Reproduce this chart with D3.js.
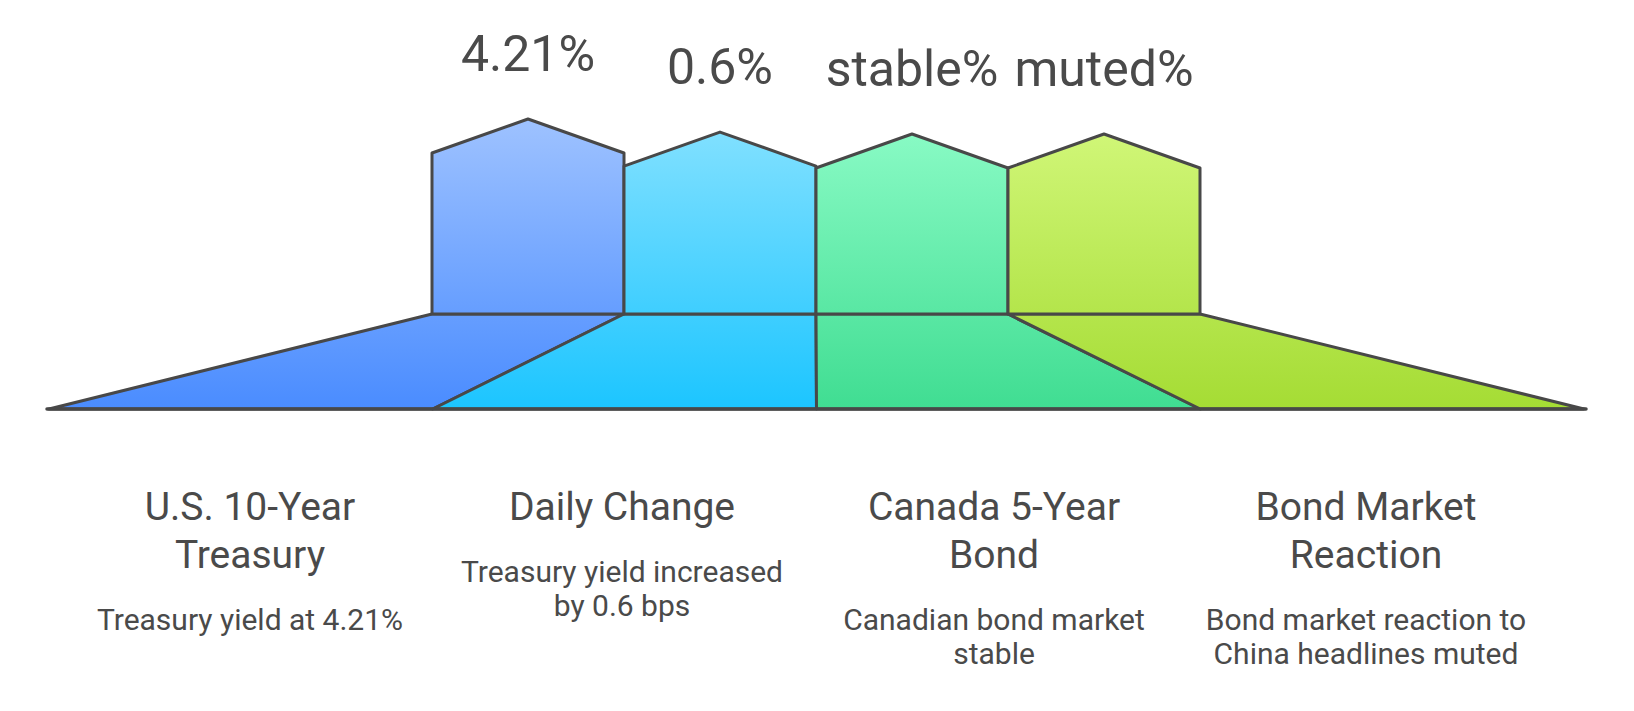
<!DOCTYPE html>
<html>
<head>
<meta charset="utf-8">
<script src="https://cdn.jsdelivr.net/npm/d3@7"></script>
<style>
  html, body { margin: 0; padding: 0; background: #ffffff; }
  svg { display: block; }
</style>
</head>
<body>
<div id="chart"></div>
<script>
/* global d3 */

// categories, top labels and read-off levels of the pentagon tips
var categories = ["us10", "daily", "canada5", "reaction"];
var valueLabels = ["4.21%", "0.6%", "stable%", "muted%"];
var levels = [100, 93.3, 92.3, 92.3];

var titles = [
	["U.S. 10-Year", "Treasury"],
	["Daily Change"],
	["Canada 5-Year", "Bond"],
	["Bond Market", "Reaction"]
];

var descriptions = [
	["Treasury yield at 4.21%"],
	["Treasury yield increased", "by 0.6 bps"],
	["Canadian bond market", "stable"],
	["Bond market reaction to", "China headlines muted"]
];

// light top / strong base colour per column
var topColors = ["#9ec2ff", "#80e0ff", "#88fac4", "#d0f677"];
var baseColors = ["#4a8cff", "#1cc5ff", "#40dd92", "#a5dc34"];

var WIDTH = 1634,
	HEIGHT = 711;

var TEXT_COLOR = "#4a4a4a",
	STROKE = "#484848";

var svg = d3.select("#chart")
  .append("svg")
	.attr("width", WIDTH)
	.attr("height", HEIGHT);

var RECT_BOTTOM = 314,
	BASE_Y = 409,
	ROOF = 34;

var xTop = d3.scaleBand().domain(categories).range([432, 1200]);
var xBottom = d3.scaleBand().domain(categories).range([49, 1584]);
var xText = d3.scaleBand().domain(categories).range([64, 1552]);
var y = d3.scaleLinear().domain([0, 100]).range([RECT_BOTTOM, 119]);

// gradients, one per column, running over the whole height of the shape
var defs = svg.append("defs");

categories.forEach(function (c, i) {
	var g = defs.append("linearGradient")
		.attr("id", "grad-" + c)
		.attr("gradientUnits", "userSpaceOnUse")
		.attr("x1", 0).attr("x2", 0)
		.attr("y1", y(levels[i])).attr("y2", BASE_Y);
	g.append("stop").attr("offset", "0%").attr("stop-color", topColors[i]);
	g.append("stop").attr("offset", "100%").attr("stop-color", baseColors[i]);
});

var line = d3.line();

// lower trapezoids
svg.append("g")
	.selectAll("path")
	.data(categories)
	.join("path")
	.attr("d", function (c) {
		var t0 = xTop(c), t1 = t0 + xTop.bandwidth();
		var b0 = xBottom(c), b1 = b0 + xBottom.bandwidth();
		return line([[t0, RECT_BOTTOM], [t1, RECT_BOTTOM], [b1, BASE_Y], [b0, BASE_Y]]) + "Z";
	})
	.attr("fill", function (c) { return "url(#grad-" + c + ")"; })
	.attr("stroke", STROKE)
	.attr("stroke-width", 3)
	.attr("stroke-linejoin", "round");

// upper pentagons
svg.append("g")
	.selectAll("path")
	.data(categories)
	.join("path")
	.attr("d", function (c, i) {
		var x0 = xTop(c), x1 = x0 + xTop.bandwidth(), xm = (x0 + x1) / 2;
		var tip = y(levels[i]);
		return line([[x0, RECT_BOTTOM], [x0, tip + ROOF], [xm, tip], [x1, tip + ROOF], [x1, RECT_BOTTOM]]) + "Z";
	})
	.attr("fill", function (c) { return "url(#grad-" + c + ")"; })
	.attr("stroke", STROKE)
	.attr("stroke-width", 3)
	.attr("stroke-linejoin", "round");

// base line
svg.append("line")
	.attr("x1", xBottom.range()[0] - 2)
	.attr("x2", xBottom.range()[1] + 2)
	.attr("y1", BASE_Y)
	.attr("y2", BASE_Y)
	.attr("stroke", STROKE)
	.attr("stroke-width", 3.5)
	.attr("stroke-linecap", "round");

// value labels above the tips
svg.append("g")
	.selectAll("text")
	.data(categories)
	.join("text")
	.attr("x", function (c) { return xTop(c) + xTop.bandwidth() / 2; })
	.attr("y", function (c, i) { return y(levels[i]) - 48; })
	.attr("font-family", "Roboto")
	.attr("font-size", 50)
	.style("text-anchor", "middle")
	.style("fill", TEXT_COLOR)
	.text(function (c, i) { return valueLabels[i]; });

// titles and descriptions underneath
var cols = svg.append("g")
	.selectAll("g")
	.data(categories)
	.join("g")
	.attr("transform", function (c) { return "translate(" + (xText(c) + xText.bandwidth() / 2) + ",0)"; });

cols.each(function (c, i) {
	var col = d3.select(this);
	var tLines = titles[i];
	var TITLE_Y = 520, TITLE_LH = 48, DESC_GAP = 62, DESC_LH = 34;

	tLines.forEach(function (t, k) {
		col.append("text")
			.attr("x", 0)
			.attr("y", TITLE_Y + k * TITLE_LH)
			.attr("font-family", "Roboto")
			.attr("font-size", 39)
			.style("text-anchor", "middle")
			.style("fill", TEXT_COLOR)
			.text(t);
	});

	var descY = TITLE_Y + (tLines.length - 1) * TITLE_LH + DESC_GAP;

	descriptions[i].forEach(function (t, k) {
		col.append("text")
			.attr("x", 0)
			.attr("y", descY + k * DESC_LH)
			.attr("font-family", "Roboto")
			.attr("font-size", 30)
			.style("text-anchor", "middle")
			.style("fill", TEXT_COLOR)
			.text(t);
	});
});
</script>
</body>
</html>
